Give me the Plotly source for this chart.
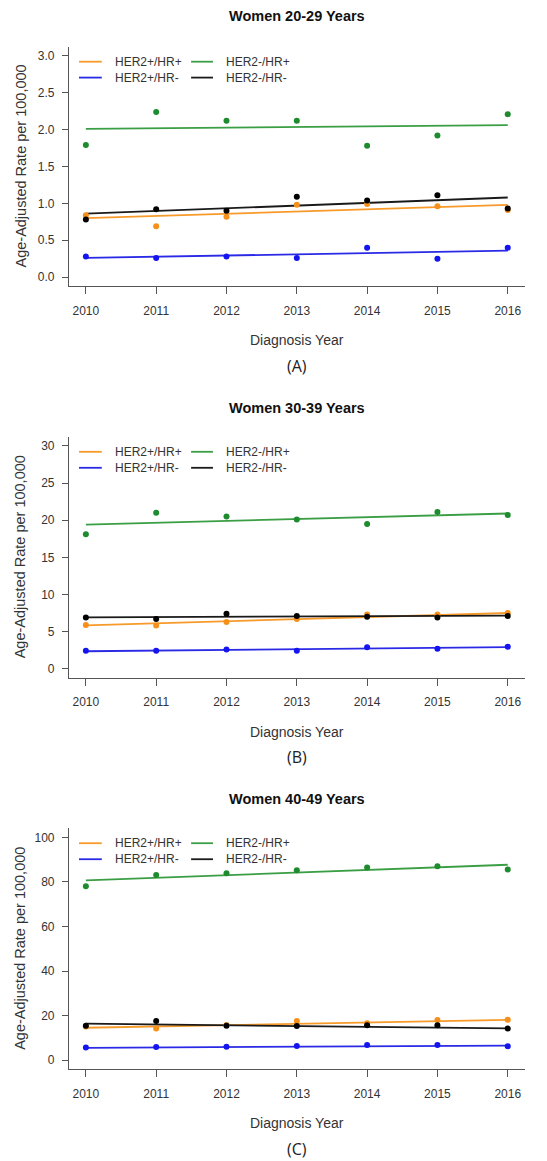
import plotly.graph_objects as go

# The page body adds an 8px margin; the figure is sized so that it fits the window.
PAGE_MARGIN = 8
W, H = 547 - PAGE_MARGIN, 1161 - PAGE_MARGIN

years = [2010, 2011, 2012, 2013, 2014, 2015, 2016]
series_names = ["HER2+/HR+", "HER2+/HR-", "HER2-/HR+", "HER2-/HR-"]
panel_titles = ["Women 20-29 Years", "Women 30-39 Years", "Women 40-49 Years"]
panel_captions = ["(A)", "(B)", "(C)"]

# Panel A: Women 20-29
a_her2p_hrp = [0.84, 0.69, 0.82, 0.98, 0.99, 0.96, 0.91]
a_her2p_hrn = [0.28, 0.26, 0.28, 0.26, 0.40, 0.25, 0.40]
a_her2n_hrp = [1.79, 2.24, 2.12, 2.12, 1.78, 1.92, 2.21]
a_her2n_hrn = [0.78, 0.92, 0.90, 1.09, 1.04, 1.11, 0.93]
a_trend_start = [0.80, 0.26, 2.01, 0.86]
a_trend_end = [0.98, 0.36, 2.06, 1.08]

# Panel B: Women 30-39
b_her2p_hrp = [5.9, 5.8, 6.3, 6.7, 7.3, 7.3, 7.5]
b_her2p_hrn = [2.4, 2.4, 2.6, 2.4, 2.9, 2.7, 2.96]
b_her2n_hrp = [18.1, 21.0, 20.5, 20.1, 19.5, 21.1, 20.7]
b_her2n_hrn = [6.9, 6.7, 7.4, 7.1, 7.0, 6.9, 7.1]
b_trend_start = [5.84, 2.35, 19.4, 6.9]
b_trend_end = [7.5, 2.9, 20.9, 7.15]

# Panel C: Women 40-49
c_her2p_hrp = [15.1, 14.3, 15.8, 17.6, 16.6, 18.1, 18.2]
c_her2p_hrn = [5.7, 6.0, 6.1, 6.4, 6.9, 6.9, 6.3]
c_her2n_hrp = [78.0, 83.1, 83.9, 85.2, 86.5, 87.0, 85.6]
c_her2n_hrn = [15.5, 17.6, 15.5, 15.4, 15.7, 15.7, 14.2]
c_trend_start = [14.6, 5.6, 80.7, 16.4]
c_trend_end = [18.1, 6.6, 87.7, 14.3]

y_ticks = [
    [0.0, 0.5, 1.0, 1.5, 2.0, 2.5, 3.0],
    [0, 5, 10, 15, 20, 25, 30],
    [0, 20, 40, 60, 80, 100],
]
y_ticktext = [
    ["0.0", "0.5", "1.0", "1.5", "2.0", "2.5", "3.0"],
    ["0", "5", "10", "15", "20", "25", "30"],
    ["0", "20", "40", "60", "80", "100"],
]
y_limits = [(0, 3), (0, 30), (0, 100)]

panels = [
    ([a_her2p_hrp, a_her2p_hrn, a_her2n_hrp, a_her2n_hrn], a_trend_start, a_trend_end),
    ([b_her2p_hrp, b_her2p_hrn, b_her2n_hrp, b_her2n_hrn], b_trend_start, b_trend_end),
    ([c_her2p_hrp, c_her2p_hrn, c_her2n_hrp, c_her2n_hrn], c_trend_start, c_trend_end),
]

line_colors = ["#F79A2A", "#2A2AE6", "#3A9E44", "#1A1A1A"]
marker_colors = ["#F5901A", "#1414F0", "#1E8C2E", "#000000"]

FONT = "Liberation Sans, Arial, sans-serif"
AXIS_COLOR = "#555555"
TEXT_COLOR = "#333333"

# layout geometry (pixels in the page/window)
plot_left, plot_right = 69, 524.6
plot_tops = [47, 437, 828.4]
plot_bottoms = [286, 677.6, 1069.2]


def px_x(px):
    return (px - PAGE_MARGIN) / W


def py(px):
    return 1 - (px - PAGE_MARGIN) / H


fig = go.Figure()
layout = dict(
    width=W, height=H,
    margin=dict(l=0, r=0, t=0, b=0),
    paper_bgcolor="white", plot_bgcolor="white",
    showlegend=False,
    font=dict(family=FONT, color=TEXT_COLOR),
)
annotations = []
shapes = []

x_span = years[-1] - years[0]
for p, (vals, t_start, t_end) in enumerate(panels):
    sfx = "" if p == 0 else str(p + 1)
    xa, ya = "x" + sfx, "y" + sfx
    for s in range(4):
        fig.add_trace(go.Scatter(
            x=[years[0], years[-1]], y=[t_start[s], t_end[s]],
            mode="lines", line=dict(color=line_colors[s], width=1.8),
            xaxis=xa, yaxis=ya, hoverinfo="skip", name=series_names[s],
        ))
    for s in range(4):
        fig.add_trace(go.Scatter(
            x=years, y=vals[s], mode="markers",
            marker=dict(color=marker_colors[s], size=6),
            xaxis=xa, yaxis=ya, name=series_names[s],
        ))
    lo, hi = y_limits[p]
    ext = (hi - lo) * 0.04
    dom_y = [py(plot_bottoms[p]), py(plot_tops[p])]
    layout["xaxis" + sfx] = dict(
        domain=[px_x(plot_left), px_x(plot_right)],
        range=[years[0] - 0.04 * x_span, years[-1] + 0.04 * x_span],
        anchor=ya, tickmode="array", tickvals=years, ticktext=[str(y) for y in years],
        showline=True, linecolor=AXIS_COLOR, linewidth=1.2,
        ticks="outside", ticklen=7, tickcolor=AXIS_COLOR, tickwidth=1.2,
        showgrid=False, zeroline=False, ticklabelstandoff=6,
        tickfont=dict(size=12, color=TEXT_COLOR, family=FONT),
    )
    layout["yaxis" + sfx] = dict(
        domain=dom_y, range=[lo - ext, hi + ext], anchor=xa,
        tickmode="array", tickvals=y_ticks[p], ticktext=y_ticktext[p],
        showline=True, linecolor=AXIS_COLOR, linewidth=1.2,
        ticks="outside", ticklen=6, tickcolor=AXIS_COLOR, tickwidth=1.2,
        showgrid=False, zeroline=False, ticklabelstandoff=5,
        tickfont=dict(size=12, color=TEXT_COLOR, family=FONT),
    )
    cx = px_x((plot_left + plot_right) / 2)
    b = plot_bottoms[p]
    annotations.append(dict(text="<b>" + panel_titles[p] + "</b>", x=cx, y=py(b - 270),
                            xref="paper", yref="paper", showarrow=False,
                            font=dict(size=14.5, color="#111111", family=FONT),
                            xanchor="center", yanchor="middle"))
    annotations.append(dict(text="Diagnosis Year", x=cx, y=py(b + 54),
                            xref="paper", yref="paper", showarrow=False,
                            font=dict(size=14, color=TEXT_COLOR, family=FONT),
                            xanchor="center", yanchor="middle"))
    annotations.append(dict(text=panel_captions[p], x=cx, y=py(b + 79.5),
                            xref="paper", yref="paper", showarrow=False,
                            font=dict(size=16, color="#222222", family="Open Sans, sans-serif"),
                            xanchor="center", yanchor="middle"))
    annotations.append(dict(text="Age-Adjusted Rate per 100,000", x=px_x(20),
                            y=(dom_y[0] + dom_y[1]) / 2, xref="paper", yref="paper",
                            showarrow=False, textangle=-90,
                            font=dict(size=14.5, color=TEXT_COLOR, family=FONT),
                            xanchor="center", yanchor="middle"))
    # legend (drawn inside each panel, two columns)
    leg_cols = [(0.022, 0.072, 0.0966), (0.268, 0.316, 0.340)]
    leg_rows = [0.9385, 0.872]
    order = [(0, 0, 0), (1, 0, 1), (2, 1, 0), (3, 1, 1)]
    for s, col, row in order:
        x0, x1, xt = leg_cols[col]
        yy = leg_rows[row]
        shapes.append(dict(type="line", xref=xa + " domain", yref=ya + " domain",
                           x0=x0, x1=x1, y0=yy, y1=yy,
                           line=dict(color=line_colors[s], width=1.8)))
        annotations.append(dict(text=series_names[s], x=xt, y=yy,
                                xref=xa + " domain", yref=ya + " domain",
                                showarrow=False, xanchor="left", yanchor="middle",
                                font=dict(size=12, color=TEXT_COLOR, family=FONT)))

layout["annotations"] = annotations
layout["shapes"] = shapes
fig.update_layout(**layout)
fig.write_html("out.html")
